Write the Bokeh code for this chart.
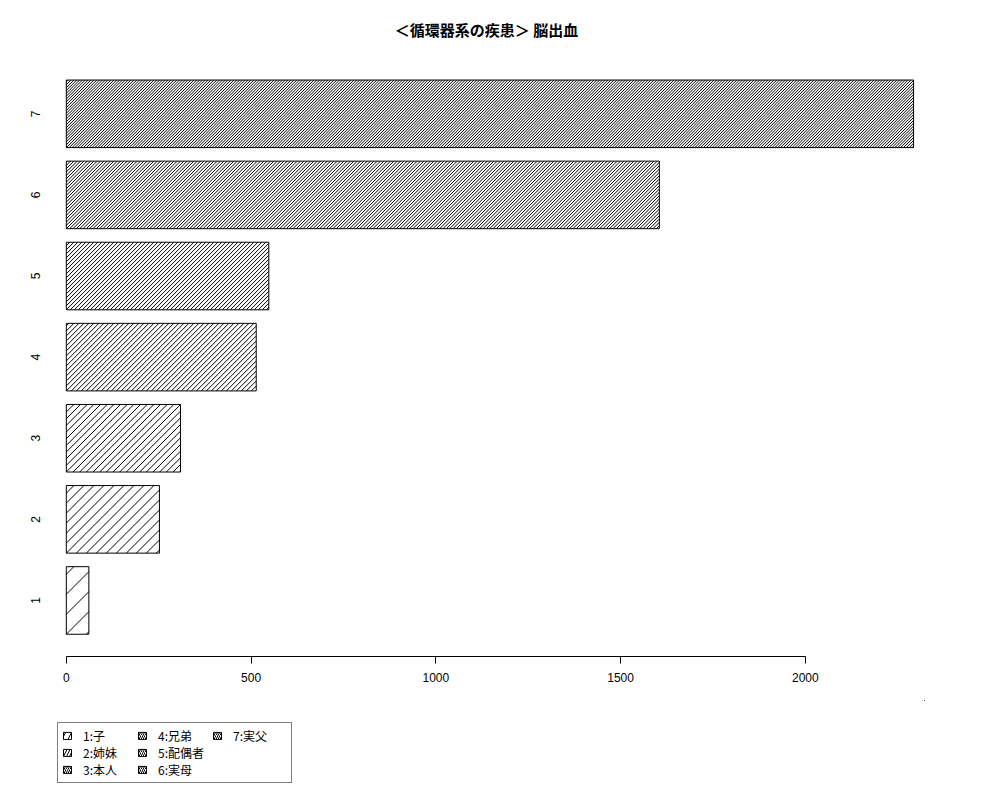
import math
from bokeh.plotting import figure
from bokeh.layouts import column
from bokeh.models import ColumnDataSource, FixedTicker, Legend, LegendItem, Label
from bokeh.embed import file_html
from bokeh.resources import INLINE

# ---- data ----
categories = [1, 2, 3, 4, 5, 6, 7]
tick_labels = ["1", "2", "3", "4", "5", "6", "7"]
values = [61, 252, 309, 514, 548, 1605, 2293]
legend_labels = ["1:子", "2:姉妹", "3:本人", "4:兄弟", "5:配偶者", "6:実母", "7:実父"]
densities = [5, 10, 15, 20, 25, 30, 35]   # hatch line density per bar (lines per inch)
x_ticks = [0, 500, 1000, 1500, 2000]
title_text = "＜循環器系の疾患＞ 脳出血"

# ---- layout / style constants ----
FIG_W = 984
TITLE_H, MAIN_H, LEG_H = 58, 642, 84
BORDER_L, BORDER_R, BORDER_T, BORDER_B = 50, 60, 0, 44
X_START, X_END = -42.8, 2322.6
Y_START, Y_END = 0.309, 7.682
BAR_H = 0.833

frame_w = FIG_W - BORDER_L - BORDER_R
frame_h = MAIN_H - BORDER_T - BORDER_B
sx = frame_w / (X_END - X_START)   # px per data unit (x)
sy = frame_h / (Y_END - Y_START)   # px per data unit (y)

# ---- title strip ----
tf = figure(width=FIG_W, height=TITLE_H, output_backend="svg", toolbar_location=None,
            x_range=(0, 1), y_range=(0, 1), x_axis_location=None, y_axis_location=None,
            min_border=0, min_border_left=0, min_border_right=0,
            min_border_top=0, min_border_bottom=0,
            background_fill_color="white", border_fill_color="white")
tf.outline_line_color = None
tf.xgrid.visible = False
tf.ygrid.visible = False
tf.add_layout(Label(x=0.5 * frame_w - 1, y=TITLE_H - 29, x_units="screen", y_units="screen",
                    text=title_text, text_align="center", text_baseline="middle",
                    text_font="Noto Sans CJK JP", text_font_style="bold",
                    text_font_size="15px", text_color="black"))

# ---- main chart ----
src = ColumnDataSource(dict(y=categories, right=values))

p = figure(width=FIG_W, height=MAIN_H, output_backend="svg", toolbar_location=None,
           x_range=(X_START, X_END), y_range=(Y_START, Y_END),
           min_border_left=BORDER_L, min_border_right=BORDER_R,
           min_border_top=BORDER_T, min_border_bottom=BORDER_B,
           background_fill_color="white", border_fill_color="white")

# bars (white fill, black border)
p.hbar(y="y", right="right", left=0, height=BAR_H, source=src,
       fill_color="white", line_color="black", line_width=1)

# 45-degree hatch lines inside each bar, spacing from the bar's density
hx0, hy0, hx1, hy1 = [], [], [], []
for c, v, d in zip(categories, values, densities):
    s = 100.0 / d                # horizontal spacing in px
    W = v * sx
    H = BAR_H * sy
    bottom = c - BAR_H / 2
    for k in range(math.ceil(-H / s), math.floor(W / s) + 1):
        off = k * s
        a = max(0.0, off)
        b = min(W, off + H)
        if b - a < 0.5:
            continue
        hx0.append(a / sx); hy0.append(bottom + (a - off) / sy)
        hx1.append(b / sx); hy1.append(bottom + (b - off) / sy)
p.segment(x0=hx0, y0=hy0, x1=hx1, y1=hy1, line_color="black", line_width=1)

p.outline_line_color = None
p.xgrid.visible = False
p.ygrid.visible = False

# x axis
xa = p.xaxis[0]
xa.ticker = FixedTicker(ticks=x_ticks)
xa.bounds = (x_ticks[0], x_ticks[-1])
xa.axis_line_color = "black"
xa.major_tick_line_color = "black"
xa.major_tick_out = 7
xa.major_tick_in = 0
xa.minor_tick_line_color = None
xa.major_label_standoff = 9
xa.major_label_text_font = "Liberation Sans"
xa.major_label_text_font_size = "12px"
xa.major_label_text_color = "black"

# y axis (labels only)
ya = p.yaxis[0]
ya.ticker = FixedTicker(ticks=categories)
ya.major_label_overrides = {c: t for c, t in zip(categories, tick_labels)}
ya.axis_line_color = None
ya.major_tick_line_color = None
ya.minor_tick_line_color = None
ya.major_tick_out = 0
ya.major_label_standoff = 10
ya.major_label_orientation = "vertical"
ya.major_label_text_font = "Liberation Sans"
ya.major_label_text_font_size = "12px"
ya.major_label_text_color = "black"

# ---- legend strip below the chart ----
# its ranges lie away from every bar, so its renderers only feed the legend
lf = figure(width=FIG_W, height=LEG_H, output_backend="svg", toolbar_location=None,
            x_range=(-3, -2), y_range=(-3, -2), x_axis_location=None, y_axis_location=None,
            min_border=0, min_border_left=0, min_border_right=0,
            min_border_top=0, min_border_bottom=0,
            background_fill_color="white", border_fill_color="white")
lf.outline_line_color = None
lf.xgrid.visible = False
lf.ygrid.visible = False

items = []
for c, v, lab, d in zip(categories, values, legend_labels, densities):
    r = lf.hbar(y=[c], right=[v], left=0, height=BAR_H,
                fill_color="white", line_color="black", line_width=1,
                hatch_pattern="/", hatch_scale=max(4.0, 60.0 / d),
                hatch_color="black", hatch_weight=1)
    items.append(LegendItem(label=lab, renderers=[r]))

lg = Legend(items=items, location=(7, 1), orientation="vertical", nrows=3,
            padding=4, margin=0, spacing=0,
            glyph_width=10, glyph_height=9, label_standoff=11,
            label_width=54, label_height=13,
            label_text_font="Noto Sans CJK JP", label_text_font_size="12px",
            label_text_color="black",
            border_line_color="black", border_line_width=1,
            background_fill_color="white", background_fill_alpha=1.0)
lf.add_layout(lg)

layout = column(tf, p, lf, spacing=0)
open("out.html", "w").write(file_html(layout, INLINE))
